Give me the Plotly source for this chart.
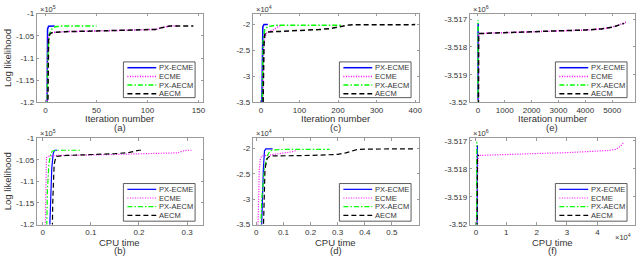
import plotly.graph_objects as go

W, H = 640, 259

series_names = ["PX-ECME", "ECME", "PX-AECM", "AECM"]
series_colors = ["#0000FF", "#FF00FF", "#00FF00", "#000000"]
series_dash = ["solid", "1px,1.5px", "5px,2px,1.5px,2px", "5px,3px"]

# ---------------- (a) iteration number, x1e5 ----------------
a_pxecme_x = [1, 1.5, 2, 3, 5, 9]
a_pxecme_y = [-1.5, -1.1, -1.035, -1.0285, -1.028, -1.028]
a_ecme_x = [1, 2, 3, 5, 10, 20, 50, 80, 100, 108, 113, 118, 122, 130]
a_ecme_y = [-1.5, -1.1, -1.046, -1.043, -1.042, -1.0405, -1.039, -1.038, -1.037, -1.0355, -1.032, -1.029, -1.028, -1.028]
a_pxaecm_x = [1, 2, 3, 4, 6, 9, 14, 50]
a_pxaecm_y = [-1.5, -1.12, -1.065, -1.045, -1.035, -1.03, -1.028, -1.028]
a_aecm_x = [1, 2, 3, 4, 6, 10, 20, 50, 80, 100, 108, 113, 118, 122, 145]
a_aecm_y = [-1.5, -1.2, -1.06, -1.047, -1.043, -1.042, -1.0405, -1.039, -1.038, -1.037, -1.0355, -1.032, -1.029, -1.028, -1.028]

# ---------------- (c) iteration number, x1e4 ----------------
c_pxecme_x = [2, 3, 4, 5, 8, 18]
c_pxecme_y = [-3.8, -3.0, -2.3, -2.05, -2.01, -2.01]
c_ecme_x = [4, 5, 7, 10, 15, 25, 35, 45, 50]
c_ecme_y = [-3.8, -3.0, -2.4, -2.25, -2.17, -2.13, -2.1, -2.05, -2.03]
c_pxaecm_x = [3, 4, 6, 10, 18, 30, 47, 210]
c_pxaecm_y = [-3.8, -3.0, -2.3, -2.1, -2.05, -2.03, -2.02, -2.02]
c_aecm_x = [5, 6, 8, 10, 17, 50, 100, 150, 180, 200, 215, 230, 400]
c_aecm_y = [-3.8, -3.0, -2.4, -2.2, -2.15, -2.14, -2.125, -2.105, -2.085, -2.06, -2.03, -2.015, -2.01]

# ---------------- (e) iteration number, x1e6 ----------------
e_pxecme_x = [5, 8, 12]
e_pxecme_y = [-3.525, -3.5172, -3.51715]
e_ecme_x = [5, 15, 30, 500, 1000, 2000, 3000, 4000, 4600, 5000, 5300, 5550]
e_ecme_y = [-3.525, -3.519, -3.51752, -3.5175, -3.51748, -3.51745, -3.51742, -3.51739, -3.51735, -3.51729, -3.5172, -3.5171]
e_pxaecm_x = [3, 6, 10]
e_pxaecm_y = [-3.525, -3.5175, -3.51703]
e_aecm_x = [5, 15, 30, 500, 1000, 2000, 3000, 4000, 4600, 5000, 5300, 5450]
e_aecm_y = [-3.525, -3.519, -3.51752, -3.5175, -3.51748, -3.51745, -3.51742, -3.51739, -3.51735, -3.51729, -3.5172, -3.51715]

# ---------------- (b) CPU time, x1e5 ----------------
b_pxecme_x = [0.012, 0.016, 0.019, 0.022, 0.025, 0.03]
b_pxecme_y = [-1.3, -1.15, -1.07, -1.035, -1.028, -1.028]
b_ecme_x = [0.004, 0.006, 0.008, 0.012, 0.03, 0.1, 0.2, 0.26, 0.28, 0.29, 0.3, 0.31]
b_ecme_y = [-1.3, -1.1, -1.045, -1.042, -1.04, -1.039, -1.037, -1.036, -1.034, -1.03, -1.028, -1.028]
b_pxaecm_x = [0.007, 0.01, 0.013, 0.016, 0.02, 0.026, 0.08]
b_pxaecm_y = [-1.3, -1.12, -1.06, -1.04, -1.03, -1.028, -1.028]
b_aecm_x = [0.019, 0.021, 0.024, 0.028, 0.05, 0.1, 0.15, 0.18, 0.19, 0.2, 0.21]
b_aecm_y = [-1.3, -1.15, -1.06, -1.042, -1.04, -1.038, -1.036, -1.033, -1.03, -1.028, -1.028]

# ---------------- (d) CPU time, x1e4 ----------------
d_pxecme_x = [0.018, 0.022, 0.026, 0.03, 0.035, 0.06]
d_pxecme_y = [-3.8, -3.0, -2.4, -2.05, -2.01, -2.01]
d_ecme_x = [0.005, 0.008, 0.011, 0.015, 0.02, 0.05, 0.1, 0.13, 0.15]
d_ecme_y = [-3.8, -3.0, -2.4, -2.2, -2.15, -2.13, -2.1, -2.07, -2.04]
d_pxaecm_x = [0.015, 0.02, 0.03, 0.04, 0.05, 0.07, 0.1, 0.27]
d_pxaecm_y = [-3.8, -3.0, -2.4, -2.15, -2.05, -2.03, -2.02, -2.02]
d_aecm_x = [0.025, 0.028, 0.032, 0.04, 0.05, 0.2, 0.3, 0.33, 0.35, 0.37, 0.4, 0.58]
d_aecm_y = [-3.8, -3.0, -2.4, -2.2, -2.15, -2.14, -2.12, -2.09, -2.05, -2.025, -2.015, -2.01]

# ---------------- (f) CPU time x1e4, y x1e6 ----------------
f_pxecme_x = [0.02, 0.03, 0.05]
f_pxecme_y = [-3.525, -3.5172, -3.51715]
f_ecme_x = [0.01, 0.03, 0.08, 0.5, 1, 2, 3, 4, 4.4, 4.6, 4.75, 4.85]
f_ecme_y = [-3.525, -3.519, -3.51752, -3.5175, -3.51748, -3.51745, -3.51742, -3.51738, -3.51734, -3.5173, -3.5172, -3.51708]
f_pxaecm_x = [0.01, 0.02, 0.03]
f_pxaecm_y = [-3.525, -3.5175, -3.51703]
f_aecm_x = [0.03, 0.05, 0.08, 0.1]
f_aecm_y = [-3.525, -3.5176, -3.51752, -3.5175]

panels = [
    dict(tag="(a)", xs=[a_pxecme_x, a_ecme_x, a_pxaecm_x, a_aecm_x], ys=[a_pxecme_y, a_ecme_y, a_pxaecm_y, a_aecm_y],
         xr=[-8.5, 154.5], yr=[-1.2, -1.0], xt=[0, 50, 100, 150], xtt=["0", "50", "100", "150"],
         yt=[-1.2, -1.15, -1.1, -1.05, -1.0], ytt=["-1.2", "-1.15", "-1.1", "-1.05", "-1"],
         xtitle="Iteration number", mult="5", ylab=True),
    dict(tag="(c)", xs=[c_pxecme_x, c_ecme_x, c_pxaecm_x, c_aecm_x], ys=[c_pxecme_y, c_ecme_y, c_pxaecm_y, c_aecm_y],
         xr=[-21, 410], yr=[-3.5, -1.8], xt=[0, 100, 200, 300, 400], xtt=["0", "100", "200", "300", "400"],
         yt=[-3.5, -3, -2.5, -2], ytt=["-3.5", "-3", "-2.5", "-2"],
         xtitle="Iteration number", mult="4", ylab=False),
    dict(tag="(e)", xs=[e_pxecme_x, e_ecme_x, e_pxaecm_x, e_aecm_x], ys=[e_pxecme_y, e_ecme_y, e_pxaecm_y, e_aecm_y],
         xr=[-300, 5850], yr=[-3.52, -3.5168], xt=[0, 1000, 2000, 3000, 4000, 5000],
         xtt=["0", "1000", "2000", "3000", "4000", "5000"],
         yt=[-3.52, -3.519, -3.518, -3.517], ytt=["-3.52", "-3.519", "-3.518", "-3.517"],
         xtitle="Iteration number", mult="6", ylab=False),
    dict(tag="(b)", xs=[b_pxecme_x, b_ecme_x, b_pxaecm_x, b_aecm_x], ys=[b_pxecme_y, b_ecme_y, b_pxaecm_y, b_aecm_y],
         xr=[-0.012, 0.333], yr=[-1.2, -1.0], xt=[0, 0.1, 0.2, 0.3], xtt=["0", "0.1", "0.2", "0.3"],
         yt=[-1.2, -1.15, -1.1, -1.05, -1.0], ytt=["-1.2", "-1.15", "-1.1", "-1.05", "-1"],
         xtitle="CPU time", mult="5", ylab=True),
    dict(tag="(d)", xs=[d_pxecme_x, d_ecme_x, d_pxaecm_x, d_aecm_x], ys=[d_pxecme_y, d_ecme_y, d_pxaecm_y, d_aecm_y],
         xr=[-0.013, 0.6], yr=[-3.5, -1.8], xt=[0, 0.1, 0.2, 0.3, 0.4, 0.5],
         xtt=["0", "0.1", "0.2", "0.3", "0.4", "0.5"],
         yt=[-3.5, -3, -2.5, -2], ytt=["-3.5", "-3", "-2.5", "-2"],
         xtitle="CPU time", mult="4", ylab=False),
    dict(tag="(f)", xs=[f_pxecme_x, f_ecme_x, f_pxaecm_x, f_aecm_x], ys=[f_pxecme_y, f_ecme_y, f_pxaecm_y, f_aecm_y],
         xr=[-0.2, 5.24], yr=[-3.52, -3.5169], xt=[0, 1, 2, 3, 4], xtt=["0", "1", "2", "3", "4"],
         yt=[-3.52, -3.519, -3.518, -3.517], ytt=["-3.52", "-3.519", "-3.518", "-3.517"],
         xtitle="CPU time", mult="6", ylab=False, xmult="4"),
]

cols = [(37, 204), (254, 421), (472, 638)]
rows = [(10, 102), (139, 228.5)]
title_off = [(17, 25.5), (18.5, 27)]

FONT = "Liberation Sans, Arial, sans-serif"
AXC = "#9a9a9a"
TXC = "#333333"

fig = go.Figure()
annotations = []
shapes = []

def px(x):
    return x / W

def py(y):
    return 1 - y / H

for i, p in enumerate(panels):
    r, c = divmod(i, 3)
    x0, x1 = cols[c]
    y0, y1 = rows[r]
    n = i + 1
    xa = "x" if n == 1 else f"x{n}"
    ya = "y" if n == 1 else f"y{n}"
    lw = 1.5 if r == 0 else 1.2
    for k in range(4):
        fig.add_trace(go.Scatter(
            x=p["xs"][k], y=p["ys"][k], mode="lines", name=series_names[k],
            line=dict(color=series_colors[k], dash=series_dash[k], width=lw),
            xaxis=xa, yaxis=ya, showlegend=False, hoverinfo="skip"))
    axcommon = dict(showline=True, linecolor=AXC, linewidth=1, mirror="ticks",
                    ticks="inside", ticklen=2.5, tickcolor=AXC, showgrid=False, zeroline=False,
                    tickfont=dict(family=FONT, size=8, color=TXC))
    fig.layout[("xaxis" if n == 1 else f"xaxis{n}")] = dict(
        domain=[px(x0), px(x1)], range=p["xr"], anchor=ya, tickvals=p["xt"], ticktext=p["xtt"], **axcommon)
    fig.layout[("yaxis" if n == 1 else f"yaxis{n}")] = dict(
        domain=[py(y1), py(y0)], range=p["yr"], anchor=xa, tickvals=p["yt"], ticktext=p["ytt"], **axcommon)

    xc = (x0 + x1) / 2
    to, tg = title_off[r]
    annotations.append(dict(x=px(xc), y=py(y1 + to), xref="paper", yref="paper", text=p["xtitle"],
                            showarrow=False, font=dict(family=FONT, size=9.5, color=TXC), xanchor="center", yanchor="middle"))
    annotations.append(dict(x=px(xc), y=py(y1 + tg), xref="paper", yref="paper", text=p["tag"],
                            showarrow=False, font=dict(family=FONT, size=9.5, color=TXC), xanchor="center", yanchor="middle"))
    annotations.append(dict(x=px(x0 + 1), y=py(y0 - 5), xref="paper", yref="paper",
                            text="×10<sup>" + p["mult"] + "</sup>",
                            showarrow=False, font=dict(family=FONT, size=7.5, color=TXC), xanchor="left", yanchor="middle"))
    if p.get("xmult"):
        annotations.append(dict(x=px(x1 - 2), y=py(y1 + 13), xref="paper", yref="paper",
                                text="×10<sup>" + p["xmult"] + "</sup>",
                                showarrow=False, font=dict(family=FONT, size=7.5, color=TXC), xanchor="right", yanchor="middle"))
    if p["ylab"]:
        annotations.append(dict(x=px(7), y=py((y0 + y1) / 2), xref="paper", yref="paper", text="Log likelihood",
                                textangle=-90, showarrow=False, font=dict(family=FONT, size=9.5, color=TXC),
                                xanchor="center", yanchor="middle"))
    lx1 = x1 - 8
    lx0 = lx1 - 72
    ly0 = y1 - 42 if r == 0 else y1 - 42.5
    ly1 = y1 - 5 if r == 0 else y1 - 3.5
    shapes.append(dict(type="rect", xref="paper", yref="paper", x0=px(lx0), x1=px(lx1), y0=py(ly1), y1=py(ly0),
                       line=dict(color="#333333", width=0.8), fillcolor="white", layer="above"))
    for k in range(4):
        yy = ly0 + 6 + k * 9
        shapes.append(dict(type="line", xref="paper", yref="paper", x0=px(lx0 + 4), x1=px(lx0 + 33),
                           y0=py(yy), y1=py(yy), layer="above",
                           line=dict(color=series_colors[k], dash=series_dash[k], width=lw)))
        annotations.append(dict(x=px(lx0 + 34), y=py(yy), xref="paper", yref="paper", text=series_names[k],
                                showarrow=False, font=dict(family=FONT, size=7.5, color=TXC),
                                xanchor="left", yanchor="middle"))

fig.update_layout(width=W, height=H, margin=dict(l=0, r=0, t=0, b=0),
                  paper_bgcolor="white", plot_bgcolor="white",
                  annotations=annotations, shapes=shapes, showlegend=False)

fig.write_html("out.html", config={"displayModeBar": False, "staticPlot": True},
               post_script="document.body.style.margin='0px';document.body.style.overflow='hidden';")
